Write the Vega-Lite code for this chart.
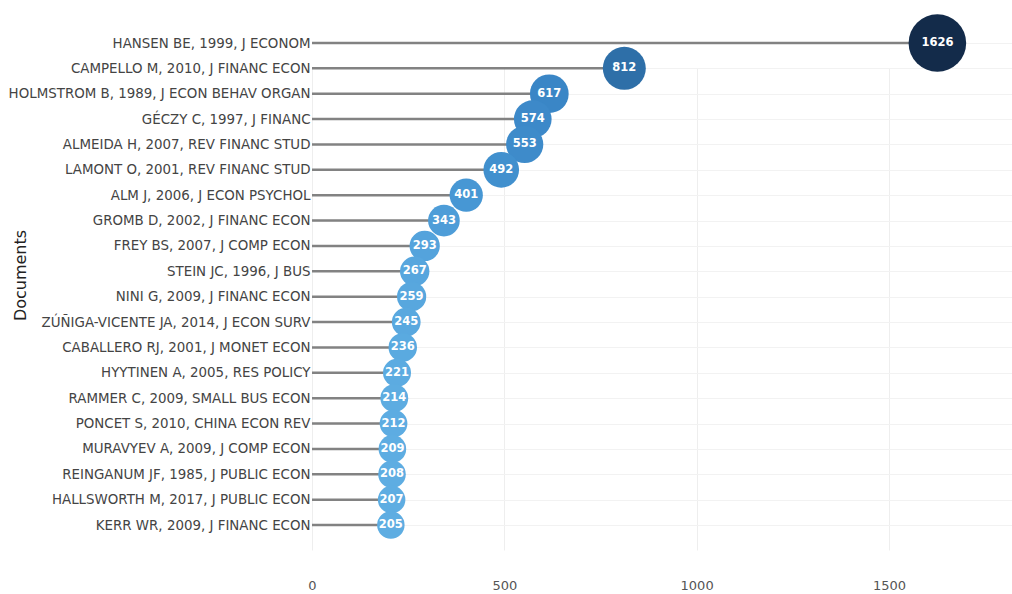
{
  "$schema": "https://vega.github.io/schema/vega-lite/v6.json",
  "width": 700,
  "height": 553,
  "autosize": {"type": "none"},
  "padding": {"left": 312, "top": 20, "right": 0, "bottom": 21},
  "background": "white",
  "config": {
    "view": {"stroke": null},
    "font": "DejaVu Sans"
  },
  "data": {
    "values": [
      {"doc": "HANSEN BE, 1999, J ECONOM", "citations": 1626},
      {"doc": "CAMPELLO M, 2010, J FINANC ECON", "citations": 812},
      {"doc": "HOLMSTROM B, 1989, J ECON BEHAV ORGAN", "citations": 617},
      {"doc": "GÉCZY C, 1997, J FINANC", "citations": 574},
      {"doc": "ALMEIDA H, 2007, REV FINANC STUD", "citations": 553},
      {"doc": "LAMONT O, 2001, REV FINANC STUD", "citations": 492},
      {"doc": "ALM J, 2006, J ECON PSYCHOL", "citations": 401},
      {"doc": "GROMB D, 2002, J FINANC ECON", "citations": 343},
      {"doc": "FREY BS, 2007, J COMP ECON", "citations": 293},
      {"doc": "STEIN JC, 1996, J BUS", "citations": 267},
      {"doc": "NINI G, 2009, J FINANC ECON", "citations": 259},
      {"doc": "ZÚÑIGA-VICENTE JA, 2014, J ECON SURV", "citations": 245},
      {"doc": "CABALLERO RJ, 2001, J MONET ECON", "citations": 236},
      {"doc": "HYYTINEN A, 2005, RES POLICY", "citations": 221},
      {"doc": "RAMMER C, 2009, SMALL BUS ECON", "citations": 214},
      {"doc": "PONCET S, 2010, CHINA ECON REV", "citations": 212},
      {"doc": "MURAVYEV A, 2009, J COMP ECON", "citations": 209},
      {"doc": "REINGANUM JF, 1985, J PUBLIC ECON", "citations": 208},
      {"doc": "HALLSWORTH M, 2017, J PUBLIC ECON", "citations": 207},
      {"doc": "KERR WR, 2009, J FINANC ECON", "citations": 205}
    ]
  },
  "encoding": {
    "y": {
      "field": "doc",
      "type": "nominal",
      "sort": {"field": "citations", "order": "descending"},
      "scale": {"type": "point", "range": [23, 505], "padding": 0},
      "axis": {
        "title": "Documents",
        "titleFont": "DejaVu Sans",
        "titleFontSize": 16,
        "titleFontWeight": "normal",
        "titleColor": "#222222",
        "titleAngle": -90,
        "titleX": -292,
        "titleY": 255,
        "titleAlign": "center",
        "titleBaseline": "middle",
        "labelFont": "DejaVu Sans",
        "labelFontSize": 13.4,
        "labelColor": "#444444",
        "labelPadding": 2,
        "labelLimit": 400,
        "domain": false,
        "ticks": false,
        "grid": true,
        "gridColor": "#f2f2f2",
        "gridWidth": 1
      }
    },
    "x": {
      "field": "citations",
      "type": "quantitative",
      "scale": {"domain": [0, 1820], "nice": false},
      "axis": {
        "title": null,
        "values": [0, 500, 1000, 1500],
        "format": "d",
        "labelFlush": false,
        "labelFont": "DejaVu Sans",
        "labelFontSize": 13,
        "labelColor": "#555555",
        "labelPadding": 6,
        "domain": false,
        "ticks": false,
        "grid": true,
        "gridColor": "#eeeeee",
        "gridWidth": 1
      }
    }
  },
  "layer": [
    {
      "mark": {"type": "rule", "color": "#828282", "strokeWidth": 2.5},
      "encoding": {
        "x2": {"datum": 0}
      }
    },
    {
      "mark": {"type": "circle", "opacity": 1},
      "encoding": {
        "size": {
          "field": "citations",
          "type": "quantitative",
          "scale": {"domain": [205, 1626], "range": [755, 3317], "zero": false},
          "legend": null
        },
        "color": {
          "field": "citations",
          "type": "quantitative",
          "scale": {
            "domain": [205, 401, 617, 812, 1626],
            "range": ["#5eade2", "#4797d4", "#3a86c6", "#2e6fa8", "#132b4a"]
          },
          "legend": null
        }
      }
    },
    {
      "mark": {
        "type": "text",
        "color": "white",
        "font": "DejaVu Sans",
        "fontWeight": "bold",
        "fontSize": 11.5,
        "align": "center",
        "baseline": "middle"
      },
      "encoding": {
        "text": {"field": "citations", "type": "quantitative"}
      }
    }
  ]
}
